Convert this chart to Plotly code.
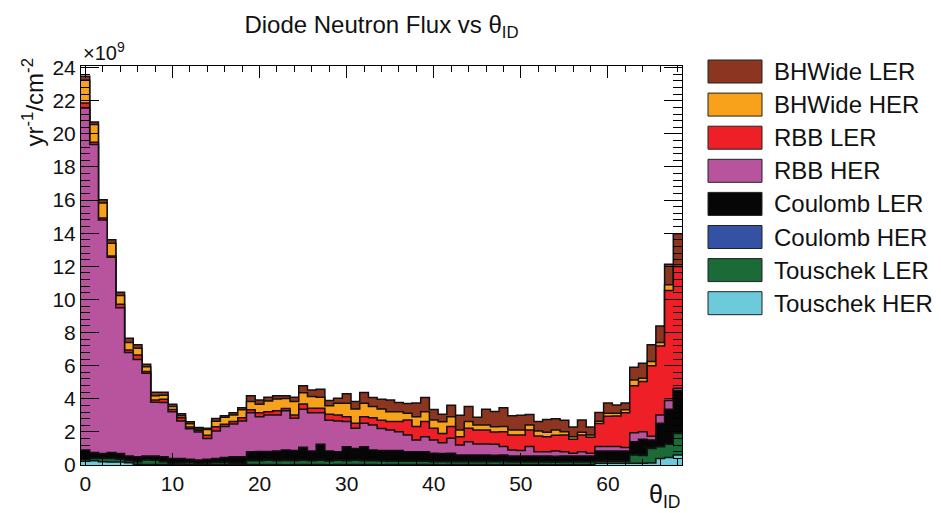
import numpy as np
import plotly.graph_objects as go

# theta_ID bins (bin centres, width 1)
theta_bins = list(range(69))

# Neutron flux per component, in units of 1e9 yr^-1 cm^-2
touschek_her = [0.22, 0.26, 0.20, 0.18, 0.18, 0.14, 0.04, 0.03, 0.03, 0.03,
                0.03, 0.03, 0.02, 0.03, 0.03, 0.02, 0.03, 0.03, 0.03, 0.03,
                0.03, 0.03, 0.03, 0.02, 0.03, 0.03, 0.03, 0.03, 0.02, 0.03,
                0.03, 0.03, 0.03, 0.03, 0.02, 0.03, 0.03, 0.03, 0.03, 0.03,
                0.03, 0.02, 0.03, 0.03, 0.03, 0.03, 0.03, 0.02, 0.03, 0.03,
                0.03, 0.03, 0.03, 0.03, 0.02, 0.03, 0.03, 0.03, 0.03, 0.10,
                0.10, 0.10, 0.10, 0.10, 0.10, 0.12, 0.40, 0.45, 0.60]
touschek_ler = [0.13, 0.14, 0.20, 0.22, 0.17, 0.11, 0.16, 0.27, 0.25, 0.17,
                0.07, 0.09, 0.12, 0.05, 0.09, 0.12, 0.12, 0.05, 0.07, 0.22,
                0.22, 0.25, 0.22, 0.25, 0.22, 0.25, 0.22, 0.25, 0.22, 0.25,
                0.22, 0.25, 0.22, 0.22, 0.22, 0.19, 0.19, 0.19, 0.19, 0.19,
                0.17, 0.17, 0.17, 0.17, 0.17, 0.17, 0.17, 0.17, 0.17, 0.15,
                0.15, 0.15, 0.15, 0.15, 0.15, 0.15, 0.15, 0.15, 0.15, 0.12,
                0.12, 0.12, 0.12, 0.50, 0.47, 0.88, 0.70, 0.80, 1.30]
coulomb_her = [0.02] * 69
coulomb_ler = [0.53, 0.33, 0.28, 0.33, 0.33, 0.28, 0.28, 0.23, 0.25, 0.28,
               0.28, 0.26, 0.18, 0.20, 0.21, 0.23, 0.28, 0.40, 0.38, 0.53,
               0.55, 0.52, 0.58, 0.61, 0.60, 0.77, 0.58, 0.95, 0.58, 0.50,
               0.83, 0.70, 0.83, 0.63, 0.61, 0.63, 0.63, 0.56, 0.56, 0.56,
               0.49, 0.49, 0.49, 0.38, 0.38, 0.38, 0.38, 0.38, 0.38, 0.34,
               0.34, 0.34, 0.34, 0.34, 0.34, 0.34, 0.34, 0.34, 0.34, 0.61,
               0.61, 0.61, 0.61, 0.78, 0.96, 0.49, 1.40, 2.10, 2.58]
rbb_her = [20.67, 18.61, 14.10, 11.80, 8.80, 6.25, 5.87, 4.99, 3.24, 3.27,
           2.81, 2.26, 1.85, 1.70, 1.25, 1.66, 1.87, 1.98, 2.16, 2.36,
           2.10, 2.20, 2.17, 2.37, 1.95, 2.30, 2.31, 1.91, 1.87, 1.86,
           1.52, 1.22, 1.42, 1.52, 1.34, 1.25, 1.14, 1.01, 0.71, 0.91,
           0.80, 0.64, 0.90, 0.61, 0.81, 0.67, 0.67, 0.67, 0.51, 0.37,
           0.34, 0.57, 0.26, 0.26, 0.31, 0.26, 0.17, 0.26, 0.17, 0.26,
           0.26, 0.26, 0.20, 0.55, 0.46, 0.22, 0.50, 0.53, 0.14]
rbb_ler = [0.29, 0.13, 0.12, 0.07, 0.21, 0.15, 0.28, 0.10, 0.14, 0.20,
           0.14, 0.20, 0.10, 0.10, 0.20, 0.26, 0.14, 0.14, 0.20, 0.17,
           0.24, 0.20, 0.26, 0.15, 0.20, 0.32, 0.27, 0.27, 0.35, 0.36,
           0.30, 0.30, 0.40, 0.44, 0.50, 0.50, 0.61, 0.91, 0.81, 0.91,
           0.71, 0.57, 0.71, 0.50, 0.81, 0.85, 0.85, 0.74, 0.90, 0.90,
           0.93, 1.01, 0.95, 0.91, 0.96, 1.01, 0.84, 1.01, 0.96, 1.39,
           1.84, 1.85, 2.11, 2.83, 3.03, 4.27, 4.17, 6.64, 7.35]
bhwide_her = [1.38, 1.07, 0.90, 0.78, 0.53, 0.45, 0.40, 0.30, 0.26, 0.25,
              0.19, 0.12, 0.20, 0.08, 0.35, 0.34, 0.42, 0.40, 0.47, 0.50,
              0.51, 0.65, 0.71, 0.60, 0.81, 0.68, 0.70, 0.66, 0.52, 0.71,
              0.81, 0.87, 0.81, 0.67, 0.67, 0.60, 0.60, 0.40, 0.60, 0.60,
              0.50, 0.70, 0.60, 0.41, 0.40, 0.30, 0.30, 0.31, 0.31, 0.31,
              0.31, 0.30, 0.31, 0.27, 0.31, 0.20, 0.16, 0.17, 0.14, 0.15,
              0.17, 0.16, 0.17, 0.36, 0.20, 0.25, 0.21, 0.34, 0.10]
bhwide_ler = [0.24, 0.16, 0.20, 0.20, 0.20, 0.26, 0.21, 0.15, 0.20, 0.17,
              0.13, 0.12, 0.12, 0.08, 0.07, 0.16, 0.10, 0.14, 0.13, 0.36,
              0.26, 0.22, 0.20, 0.16, 0.26, 0.41, 0.40, 0.49, 0.32, 0.30,
              0.58, 0.44, 0.65, 0.54, 0.59, 0.71, 0.56, 0.60, 0.83, 0.86,
              0.63, 0.45, 0.69, 0.88, 0.91, 0.46, 0.95, 0.92, 1.14, 0.85,
              0.88, 0.63, 0.56, 0.77, 0.68, 0.69, 0.59, 0.74, 0.49, 0.52,
              0.63, 0.51, 0.42, 0.76, 0.91, 1.01, 1.00, 1.25, 1.88]

# stacking order, bottom to top
stack_names = ["Touschek HER", "Touschek LER", "Coulomb HER", "Coulomb LER",
               "RBB HER", "RBB LER", "BHWide HER", "BHWide LER"]
stack_values = [touschek_her, touschek_ler, coulomb_her, coulomb_ler,
                rbb_her, rbb_ler, bhwide_her, bhwide_ler]
stack_colors = ["#6ccadb", "#1b6b39", "#3452a3", "#060606",
                "#b8539e", "#ee1f27", "#f8a21c", "#8c3622"]

FONT = "Liberation Sans, Arial, Helvetica, sans-serif"
TXT = "#111111"

centers = np.array(theta_bins, dtype=float)
edges = np.append(centers - 0.5, centers[-1] + 0.5)
cumulative = np.cumsum(np.array(stack_values), axis=0)

fig = go.Figure()

# draw cumulative histograms from the top of the stack down, each filled to zero
for k in range(len(stack_names) - 1, -1, -1):
    level = cumulative[k]
    fig.add_trace(go.Scatter(
        x=edges, y=np.append(level, level[-1]),
        mode="lines", line=dict(shape="hv", color="#111111", width=1.5),
        fill="tozeroy", fillcolor=stack_colors[k],
        name=stack_names[k], showlegend=False, hoverinfo="skip",
    ))

# plot area in pixels
L, R, T, B = 81, 682, 66, 465
W, H = 941, 513


def px_x(p):
    return (p - L) / (R - L)


def px_y(p):
    return (B - p) / (B - T)


fig.update_layout(
    width=W, height=H,
    margin=dict(l=L, r=W - R, t=T, b=H - B),
    paper_bgcolor="white", plot_bgcolor="white",
    font=dict(family=FONT, color=TXT, size=20),
    showlegend=False,
    title=dict(text="Diode Neutron Flux vs θ<sub>ID</sub>",
               x=px_x((L + R) / 2), xref="paper", xanchor="center",
               y=1 - 25 / H, yanchor="middle",
               font=dict(family=FONT, size=24, color=TXT)),
)

fig.update_xaxes(
    range=[edges[0], edges[-1]], showgrid=False, zeroline=False,
    showline=True, linecolor="black", linewidth=1, mirror="ticks",
    ticks="inside", ticklen=12, tickwidth=1, tickcolor="black",
    tick0=0, dtick=10, tickfont=dict(size=21, color=TXT),
    minor=dict(ticks="inside", ticklen=6, dtick=2, tick0=0, tickcolor="black"),
)
fig.update_yaxes(
    range=[0, 24.1], showgrid=False, zeroline=False,
    showline=True, linecolor="black", linewidth=1, mirror="ticks",
    ticks="inside", ticklen=18, tickwidth=1, tickcolor="black",
    tick0=0, dtick=2, tickfont=dict(size=21, color=TXT),
    minor=dict(ticks="inside", ticklen=9, dtick=0.4, tick0=0, tickcolor="black"),
)

annotations = [
    dict(text="×10<sup>9</sup>", xref="paper", yref="paper", x=0, y=1,
         xanchor="left", yanchor="bottom", yshift=0, showarrow=False,
         font=dict(size=20, color=TXT)),
    dict(text="yr<sup>-1</sup>/cm<sup>-2</sup>", xref="paper", yref="paper",
         x=px_x(33), y=px_y(56), xanchor="center", yanchor="top",
         textangle=-90, showarrow=False, font=dict(size=24, color=TXT)),
    dict(text="θ<sub>ID</sub>", xref="paper", yref="paper",
         x=px_x(682), y=px_y(478), xanchor="right", yanchor="top",
         showarrow=False, font=dict(size=25, color=TXT)),
]

# legend: coloured boxes with labels, top of stack first
shapes = []
row0, row_step = 71.5, 33.1
for i, k in enumerate(range(len(stack_names) - 1, -1, -1)):
    yc = row0 + i * row_step
    shapes.append(dict(type="rect", xref="paper", yref="paper",
                       x0=px_x(708), x1=px_x(762),
                       y0=px_y(yc + 11.5), y1=px_y(yc - 11.5),
                       fillcolor=stack_colors[k],
                       line=dict(color="#222222", width=1)))
    annotations.append(dict(text=stack_names[k], xref="paper", yref="paper",
                            x=px_x(772), y=px_y(yc), xanchor="left",
                            yanchor="middle", showarrow=False,
                            font=dict(size=24, color=TXT)))

fig.update_layout(annotations=annotations, shapes=shapes)

fig.write_html("out.html")
